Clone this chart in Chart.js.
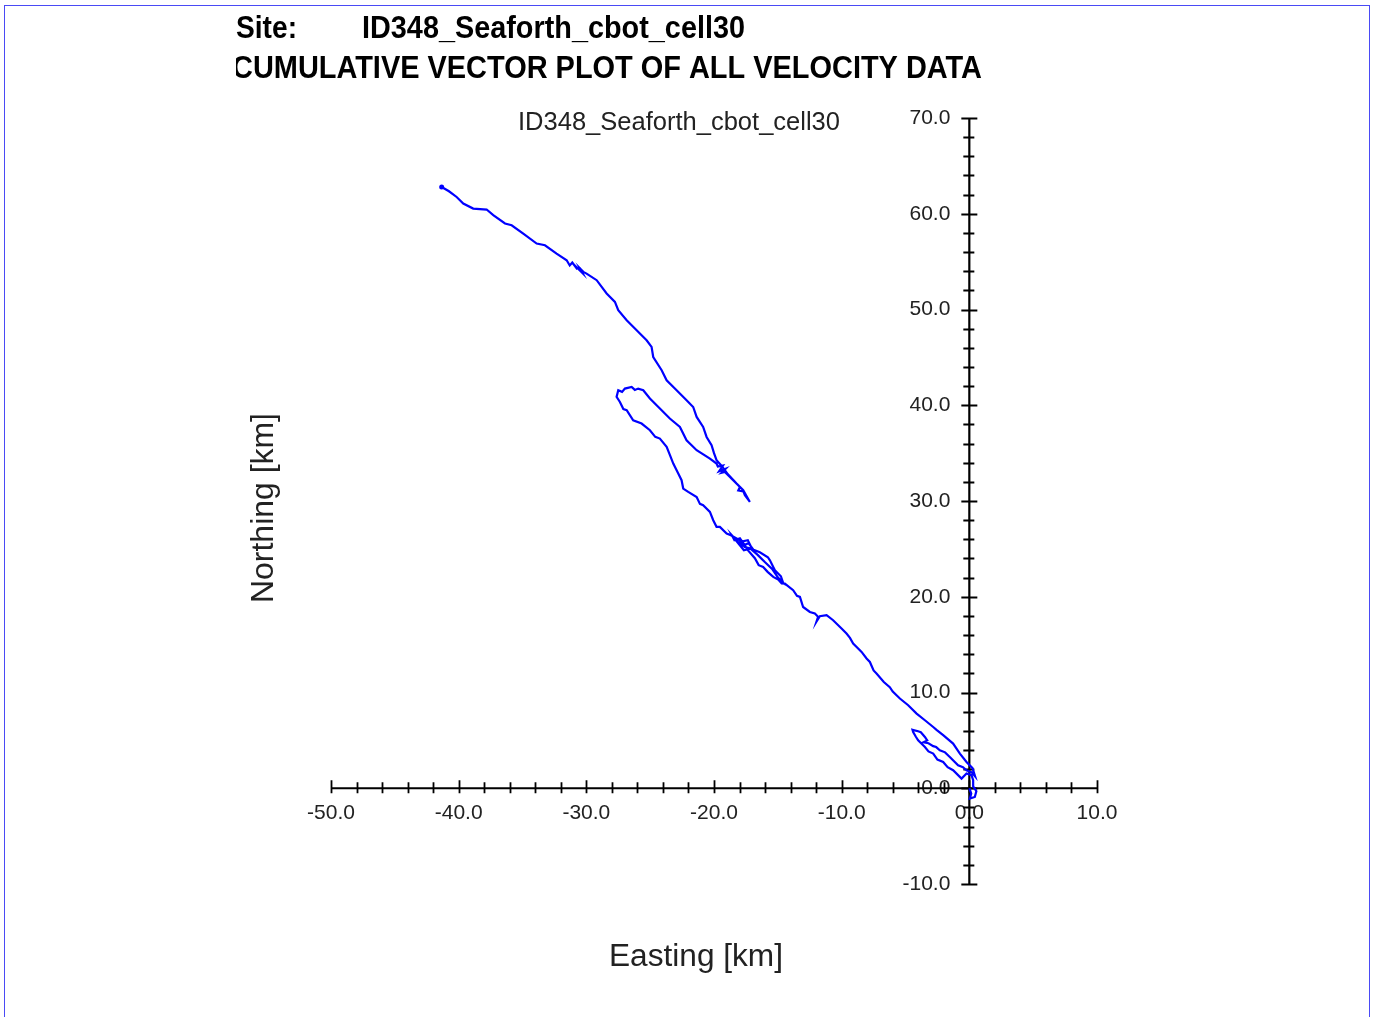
<!DOCTYPE html>
<html>
<head>
<meta charset="utf-8">
<title>Cumulative vector plot</title>
<script src="https://cdn.jsdelivr.net/npm/chart.js@4.4.1/dist/chart.umd.min.js"></script>
<style>
  html, body { margin:0; padding:0; background:#fff; }
  #wrap { position:relative; width:1378px; height:1017px; overflow:hidden; }
  #frame { position:absolute; left:4px; top:5px; width:1364px; height:1030px; border:1px solid #4a4af5; pointer-events:none; }
  canvas { position:absolute; left:0; top:0; }
</style>
</head>
<body>
<div id="wrap">
  <canvas id="vetor" width="1378" height="1017"></canvas>
  <div id="frame"></div>
</div>
<script>
// Dados (km) - caminho acumulado, começa na origem
const eastKm = [
  0.00, 0.15, 0.04, 0.43, 0.55, 0.30, 0.30, 0.17, -0.22, -0.61,
  -1.27, -1.70, -2.05, -2.50, -2.83, -3.20, -3.48, -4.01, -4.20, -4.40,
  -4.45, -4.01, -3.80, -3.48, -3.30, -3.60, -3.20, -2.83, -2.60, -2.31,
  -1.90, -1.53, -0.88, -0.50, -0.22, 0.20, 0.45, 0.25,
  -0.22, -0.74, -1.27, -2.05, -2.57, -2.83, -3.48, -4.13, -4.79, -5.44,
  -6.00, -6.23, -6.70, -7.27, -7.50, -7.79, -8.05, -8.44, -9.10, -9.35,
  -9.62, -10.01, -10.67, -11.18, -11.71, -11.97, -11.85, -12.10, -12.49, -13.02,
  -13.27, -13.50, -13.80, -14.45, -14.70, -14.97, -15.36, -15.80, -16.15, -16.50,
  -16.80, -17.35, -17.58, -17.97, -18.40, -18.60, -18.10, -17.35, -17.04, -17.66,
  -18.29, -17.80, -17.30, -16.90, -16.41, -15.78, -15.62, -15.23, -14.76, -14.60,
  -14.99, -15.45, -16.00, -16.60, -17.19, -17.60, -17.97, -18.68, -19.01, -19.54,
  -19.80, -20.06, -20.32, -20.85, -21.10, -21.36, -22.02, -22.41, -22.54, -22.80,
  -23.19, -23.45, -23.71, -24.24, -24.60, -25.02, -25.67, -26.33, -26.84, -27.10,
  -27.37, -27.63, -27.50, -27.20, -26.98, -26.45, -26.20, -25.94, -25.54, -25.02,
  -24.24, -23.46, -22.67, -22.15, -21.36, -20.32, -19.80, -19.70, -19.30, -19.60,
  -19.10, -19.40, -19.15, -18.50, -17.97, -18.10, -17.70, -17.58, -17.19,
  -17.71, -18.23, -18.91, -19.38, -19.80, -20.00, -20.19, -20.58, -20.85, -21.36,
  -21.63, -22.15, -22.93, -23.71, -24.10, -24.76, -24.89, -25.28, -26.06, -26.84,
  -27.50, -27.76, -28.41, -29.19, -29.98, -30.20, -30.50, -30.30, -30.90, -30.70,
  -31.10, -31.30, -31.54, -32.33, -33.24, -33.89, -34.94, -35.85, -36.37, -37.29,
  -37.81, -38.86, -39.64, -40.16, -40.76, -41.33
];
const northKm = [
  0.00, -0.55, -1.08, -0.91, -0.30, 0.20, 0.84, 1.36, 1.54, 1.01,
  1.88, 2.20, 2.75, 3.00, 3.62, 3.85, 4.31, 5.01, 5.40, 5.88,
  6.10, 5.95, 5.85, 5.36, 5.00, 4.80, 4.70, 4.40, 4.30, 3.97,
  3.75, 3.27, 2.40, 2.20, 1.88, 1.65, 1.25, 2.10,
  2.75, 3.62, 4.67, 5.54, 6.10, 6.40, 7.10, 7.80, 8.67, 9.37,
  10.10, 10.55, 11.10, 11.98, 12.30, 13.19, 13.55, 14.24, 15.11, 15.70,
  16.16, 16.68, 17.55, 18.07, 17.96, 17.40, 17.90, 18.25, 18.41, 18.93,
  19.98, 20.10, 20.68, 21.38, 21.40, 21.80, 22.07, 22.60, 23.11, 23.30,
  24.02, 24.86, 25.38, 26.11, 25.90, 26.42, 25.69, 25.90, 25.07, 24.86,
  25.90, 25.30, 25.60, 24.90, 24.65, 24.13, 23.81, 22.77, 22.14, 21.52,
  22.00, 22.90, 23.60, 24.40, 25.07, 25.20, 25.90, 26.42, 26.60, 27.29,
  27.30, 27.99, 28.86, 29.56, 29.70, 30.42, 30.95, 31.30, 32.17, 32.87,
  33.91, 34.80, 35.65, 36.52, 36.70, 37.39, 38.09, 38.43, 39.48, 39.60,
  40.34, 40.87, 41.57, 41.40, 41.74, 41.91, 41.60, 41.74, 41.57, 40.70,
  39.66, 38.61, 37.73, 36.34, 35.30, 34.43, 33.91, 33.60, 33.70, 33.10,
  33.35, 32.95, 33.03, 32.17, 31.47, 31.10, 31.00, 30.60, 29.90,
  31.12, 31.82, 32.79, 33.63, 34.26, 35.00, 35.82, 36.69, 37.73, 38.78,
  39.82, 40.52, 41.57, 42.61, 43.66, 45.04, 46.09, 46.79, 47.83, 48.88,
  49.92, 50.79, 51.67, 53.06, 53.75, 53.90, 54.30, 53.80, 54.60, 54.20,
  54.90, 54.60, 55.14, 55.84, 56.71, 56.89, 57.93, 58.80, 58.98, 59.85,
  60.44, 60.54, 61.07, 61.75, 62.35, 62.80
];

// Eixos
const xMajor = [-50, -40, -30, -20, -10, 0, 10];
const yMajor = [-10, 0, 10, 20, 30, 40, 50, 60, 70];
const minorStep = 2;

const siteName = 'ID348_Seaforth_cbot_cell30';
const plotTitle = 'CUMULATIVE VECTOR PLOT OF ALL VELOCITY DATA';

const pontos = eastKm.map((e, i) => ({ x: e, y: northKm[i] }));

// desenha texto ajustado a uma largura
function textoAjustado(ctx, txt, x, y, largura, font, align) {
  ctx.save();
  ctx.font = font;
  ctx.textBaseline = 'middle';
  ctx.textAlign = 'left';
  const w = ctx.measureText(txt).width;
  const s = largura / w;
  let x0 = x;
  if (align === 'center') x0 = x - largura / 2;
  ctx.translate(x0, y);
  ctx.scale(s, 1);
  ctx.fillText(txt, 0, 0);
  ctx.restore();
}

const eixosCruzados = {
  id: 'eixosCruzados',
  beforeDatasetsDraw(chart) {
    const { ctx, scales: { x, y } } = chart;
    const x0 = x.getPixelForValue(0), y0 = y.getPixelForValue(0);
    ctx.save();
    // rótulos
    ctx.fillStyle = '#222';
    ctx.font = '21px "Liberation Sans", Arial, sans-serif';
    ctx.textBaseline = 'middle';
    ctx.textAlign = 'center';
    xMajor.forEach(v => ctx.fillText(v.toFixed(1), x.getPixelForValue(v), y0 + 25));
    ctx.textAlign = 'right';
    yMajor.forEach(v => ctx.fillText(v.toFixed(1), x0 - 19, y.getPixelForValue(v)));

    // linhas
    ctx.strokeStyle = '#000';
    ctx.lineWidth = 2.2;
    ctx.beginPath();
    ctx.moveTo(x.getPixelForValue(xMajor[0]), y0);
    ctx.lineTo(x.getPixelForValue(xMajor[xMajor.length - 1]), y0);
    ctx.moveTo(x0, y.getPixelForValue(yMajor[0]));
    ctx.lineTo(x0, y.getPixelForValue(yMajor[yMajor.length - 1]));
    ctx.stroke();

    ctx.lineWidth = 1.8;
    ctx.beginPath();
    for (let v = xMajor[0]; v <= xMajor[xMajor.length - 1]; v += minorStep) {
      const px = Math.round(x.getPixelForValue(v)) + 0.5;
      const big = v % 10 === 0;
      ctx.moveTo(px, y0 - (big ? 8 : 6));
      ctx.lineTo(px, y0 + 5);
    }
    for (let v = yMajor[0]; v <= yMajor[yMajor.length - 1]; v += minorStep) {
      const py = Math.round(y.getPixelForValue(v)) + 0.5;
      const big = v % 10 === 0;
      ctx.moveTo(x0 - (big ? 8 : 6), py);
      ctx.lineTo(x0 + (big ? 8 : 5), py);
    }
    ctx.stroke();
    ctx.restore();
  },
  afterDraw(chart) {
    const { ctx } = chart;
    ctx.save();
    ctx.fillStyle = '#000';
    const negrito = 'bold 31px "Liberation Sans Narrow", "Arial Narrow", "Liberation Sans", Arial, sans-serif';
    textoAjustado(ctx, 'Site:', 236, 29, 61, negrito, 'left');
    textoAjustado(ctx, siteName, 362, 29, 383, negrito, 'left');
    ctx.save();
    ctx.beginPath();
    ctx.rect(236, 40, 900, 60);
    ctx.clip();
    textoAjustado(ctx, plotTitle, 232, 69, 750, negrito, 'left');
    ctx.restore();

    ctx.fillStyle = '#222';
    textoAjustado(ctx, siteName, 679, 123, 322, '25px "Liberation Sans", Arial, sans-serif', 'center');
    textoAjustado(ctx, 'Easting [km]', 696, 957, 174, '31px "Liberation Sans", Arial, sans-serif', 'center');
    ctx.translate(264, 508);
    ctx.rotate(-Math.PI / 2);
    textoAjustado(ctx, 'Northing [km]', 0, 0, 190, '31px "Liberation Sans", Arial, sans-serif', 'center');
    ctx.restore();
  }
};

new Chart(document.getElementById('vetor').getContext('2d'), {
  type: 'scatter',
  data: {
    datasets: [{
      data: pontos,
      showLine: true,
      borderColor: '#0000ff',
      backgroundColor: '#0000ff',
      borderWidth: 2.2,
      pointRadius: pontos.map((p, i) => i === pontos.length - 1 ? 2.5 : 0),
      pointBorderWidth: 0,
      tension: 0
    }]
  },
  options: {
    responsive: false,
    animation: false,
    devicePixelRatio: 1,
    layout: { padding: { left: 331, right: 281, top: 118, bottom: 133 } },
    scales: {
      x: { type: 'linear', min: -50, max: 10, display: false },
      y: { type: 'linear', min: -10, max: 70, display: false }
    },
    plugins: { legend: { display: false }, tooltip: { enabled: false } }
  },
  plugins: [eixosCruzados]
});
</script>
</body>
</html>
